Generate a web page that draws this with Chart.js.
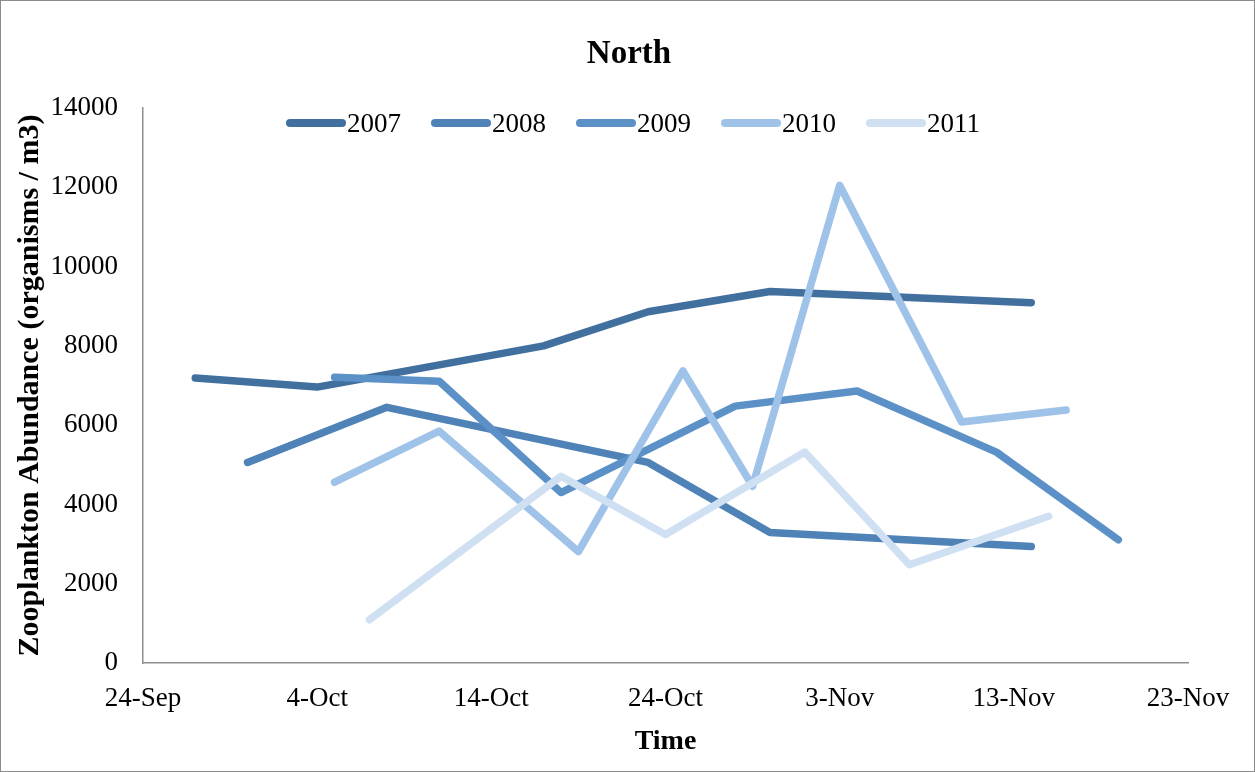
<!DOCTYPE html>
<html>
<head>
<meta charset="utf-8">
<title>North</title>
<script src="https://cdn.jsdelivr.net/npm/chart.js@4.4.1/dist/chart.umd.min.js"></script>
<style>
  html, body { margin: 0; padding: 0; background: #fff; }
  #wrap { width: 1255px; height: 772px; position: relative; }
</style>
</head>
<body>
<div id="wrap"><canvas id="north"></canvas></div>
<script>
// x axis: days since 24-Sep, a tick every 10 days
const tickLabels = ["24-Sep", "4-Oct", "14-Oct", "24-Oct", "3-Nov", "13-Nov", "23-Nov"];
const years = ["2007", "2008", "2009", "2010", "2011"];
const colors = ["#42709e", "#4f82b6", "#5b91c7", "#9fc3e8", "#cfe0f3"];

const dates2007 = ["27-Sep", "4-Oct", "17-Oct", "23-Oct", "30-Oct", "14-Nov"];
const vals2007 = [7190, 6960, 8000, 8860, 9370, 9090];

const dates2008 = ["30-Sep", "8-Oct", "23-Oct", "30-Oct", "14-Nov"];
const vals2008 = [5060, 6450, 5060, 3290, 2940];

const dates2009 = ["5-Oct", "11-Oct", "18-Oct", "28-Oct", "4-Nov", "12-Nov", "19-Nov"];
const vals2009 = [7210, 7110, 4300, 6480, 6860, 5320, 3110];

const dates2010 = ["5-Oct", "11-Oct", "19-Oct", "25-Oct", "29-Oct", "3-Nov", "10-Nov", "16-Nov"];
const vals2010 = [4560, 5850, 2810, 7370, 4460, 12050, 6080, 6380];

const dates2011 = ["7-Oct", "18-Oct", "24-Oct", "1-Nov", "7-Nov", "15-Nov"];
const vals2011 = [1090, 4710, 3240, 5320, 2480, 3700];

const allDates = [dates2007, dates2008, dates2009, dates2010, dates2011];
const allVals = [vals2007, vals2008, vals2009, vals2010, vals2011];

function dayOffset(label) {
  const [d, m] = label.split("-");
  const monthStart = { Sep: -24, Oct: 6, Nov: 37 };
  return monthStart[m] + Number(d);
}

const FONT = "'Liberation Serif', 'Times New Roman', serif";

// background, outer frame and the title (centred on the whole canvas)
const framePlugin = {
  id: "frame",
  beforeDraw(chart) {
    const ctx = chart.ctx;
    ctx.save();
    ctx.fillStyle = "#fff";
    ctx.fillRect(0, 0, chart.width, chart.height);
    ctx.strokeStyle = "#8c8c8c";
    ctx.lineWidth = 1;
    ctx.strokeRect(0.5, 0.5, chart.width - 1, chart.height - 1);
    ctx.fillStyle = "#000";
    ctx.font = "bold 33px " + FONT;
    ctx.textAlign = "center";
    ctx.textBaseline = "middle";
    ctx.fillText("North", 629, 54);
    ctx.restore();
  }
};

// legend sits inside the plot area, so draw it by hand
const lineLegend = {
  id: "lineLegend",
  afterDraw(chart) {
    const ctx = chart.ctx;
    const swatch = 60, gap = 1, spacing = 30;
    ctx.save();
    ctx.font = "27px " + FONT;
    const items = chart.data.datasets.map(ds => ({ ds, w: ctx.measureText(ds.label).width }));
    const total = items.reduce((s, it) => s + swatch + gap + it.w, 0) + spacing * (items.length - 1);
    let x = 633 - total / 2;
    const y = 123;
    items.forEach(it => {
      ctx.strokeStyle = it.ds.borderColor;
      ctx.lineWidth = 8;
      ctx.lineCap = "round";
      ctx.beginPath();
      ctx.moveTo(x + 4, y);
      ctx.lineTo(x + swatch - 4, y);
      ctx.stroke();
      ctx.fillStyle = "#000";
      ctx.textBaseline = "middle";
      ctx.fillText(it.ds.label, x + swatch + gap, y + 2);
      x += swatch + gap + it.w + spacing;
    });
    ctx.restore();
  }
};

function buildNorthChart() {
  const datasets = years.map((year, i) => ({
    label: year,
    data: allDates[i].map((d, j) => ({ x: dayOffset(d), y: allVals[i][j] })),
    borderColor: colors[i],
    backgroundColor: colors[i],
    borderWidth: 7.5,
    borderCapStyle: "round",
    borderJoinStyle: "round",
    pointRadius: 0,
    tension: 0,
    order: years.length - 1 - i // later years drawn on top
  }));

  new Chart(document.getElementById("north"), {
    type: "line",
    data: { datasets },
    plugins: [framePlugin, lineLegend],
    options: {
      responsive: true,
      maintainAspectRatio: false,
      animation: false,
      layout: { padding: { left: 0, right: 67, top: 108, bottom: 0 } },
      plugins: {
        legend: { display: false },
        tooltip: { enabled: false },
        title: { display: false }
      },
      scales: {
        x: {
          type: "linear",
          min: 0,
          max: 60,
          afterFit: (axis) => { axis.height = 109; },
          grid: { display: false, drawTicks: false },
          border: { color: "#8e8e8e", width: 1.5 },
          ticks: {
            stepSize: 10,
            padding: 20,
            color: "#000",
            font: { family: FONT, size: 27 },
            maxRotation: 0,
            callback: (v) => tickLabels[v / 10]
          },
          title: {
            display: true,
            text: "Time",
            color: "#000",
            font: { family: FONT, size: 28, weight: "bold" },
            padding: { top: 0, bottom: 13 }
          }
        },
        y: {
          min: 0,
          max: 14000,
          afterFit: (axis) => { axis.width = 143; },
          grid: { display: false, drawTicks: false },
          border: { color: "#8e8e8e", width: 1.5 },
          ticks: {
            stepSize: 2000,
            padding: 25,
            color: "#000",
            font: { family: FONT, size: 27 },
            callback: (v) => String(v)
          },
          title: {
            display: true,
            text: "Zooplankton Abundance (organisms / m3)",
            color: "#000",
            font: { family: FONT, size: 30, weight: "bold" },
            padding: { top: 12, bottom: 0 }
          }
        }
      }
    }
  });
}

document.addEventListener("DOMContentLoaded", buildNorthChart);
</script>
</body>
</html>
